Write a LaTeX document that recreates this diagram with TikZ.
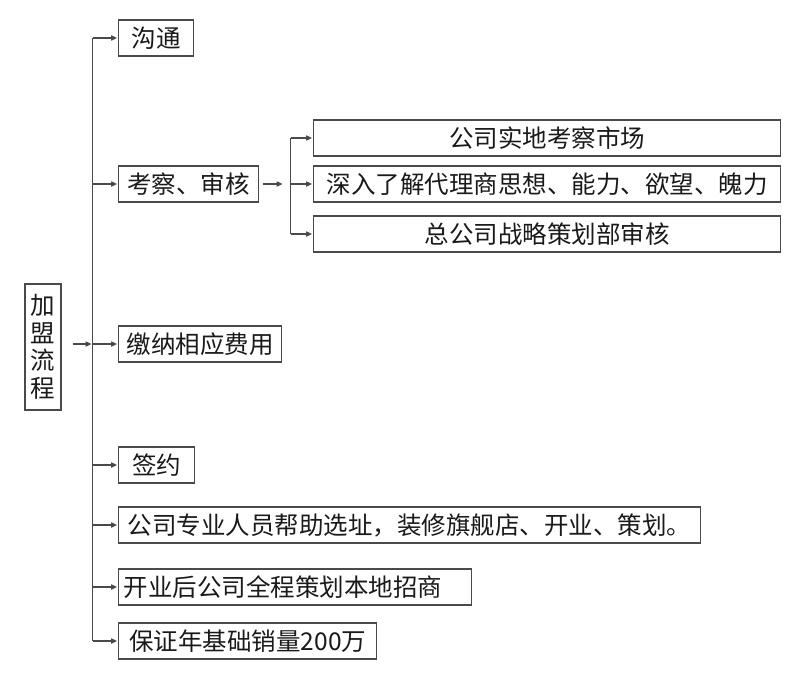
\documentclass[tikz,border=0pt]{standalone}
\usepackage{fontspec}
\setmainfont{Noto Sans CJK SC}
\usetikzlibrary{arrows.meta}
\definecolor{edge}{HTML}{4A4A4A}
\definecolor{ink}{HTML}{1A1A1A}
\tikzset{
  box/.style={draw=edge, line width=1.4pt, rectangle, minimum height=36pt, inner sep=0pt,
    anchor=west, text=ink, font=\fontsize{24.5}{27}\selectfont},
  conn/.style={draw=edge, line width=1.5pt},
  arr/.style={conn, -{Triangle[length=6pt,width=5pt]}, shorten >=0.8pt}
}
\begin{document}
\begin{tikzpicture}[x=1pt,y=-1pt]
\useasboundingbox (0,0) rectangle (800,674);
\fill[white] (0,0) rectangle (800,674);
% main nodes
\node[box, minimum width=36pt, minimum height=126pt, anchor=center, align=center,
  font=\fontsize{24.5}{27.5}\selectfont] (jm) at (43,347) {加\\盟\\流\\程};
\node[box, minimum width=75pt] (gt) at (118,38) {沟通};
\node[box, minimum width=140pt] (kc) at (118,184) {考察、审核};
\node[box, minimum width=467pt] (r1) at (313,138) {公司实地考察市场};
\node[box, minimum width=467pt] (r2) at (313,184) {深入了解代理商思想、能力、欲望、魄力};
\node[box, minimum width=467pt] (r3) at (313,234) {总公司战略策划部审核};
\node[box, minimum width=163pt] (fy) at (118,344) {缴纳相应费用};
\node[box, minimum width=76pt] (qy) at (118,465) {签约};
\node[box, minimum width=582pt] (xz) at (118,525) {公司专业人员帮助选址，装修旗舰店、开业、策划。};
\node[box, text width=343pt, align=left, inner xsep=5pt] (ky) at (118,587) {开业后公司全程策划本地招商};
\node[box, minimum width=258pt] (bz) at (118,641) {保证年基础销量200万};
% spine coordinates
\coordinate (sp) at (92.5,0);
\coordinate (sb) at (290.5,0);
% main spine
\draw[conn] (gt.west -| sp) -- (bz.west -| sp);
\foreach \n in {gt,kc,fy,qy,xz,ky,bz}{
  \draw[arr] (\n.west -| sp) -- (\n.west);
}
\draw[arr] ([xshift=11pt]jm.east |- fy.west) -- (fy.west -| sp);
% sub branch
\draw[arr] ([xshift=4pt]kc.east) -- ([xshift=-7pt]kc.east -| sb);
\draw[conn] (r1.west -| sb) -- (r3.west -| sb);
\foreach \n in {r1,r2,r3}{
  \draw[arr] (\n.west -| sb) -- (\n.west);
}
\end{tikzpicture}
\end{document}
